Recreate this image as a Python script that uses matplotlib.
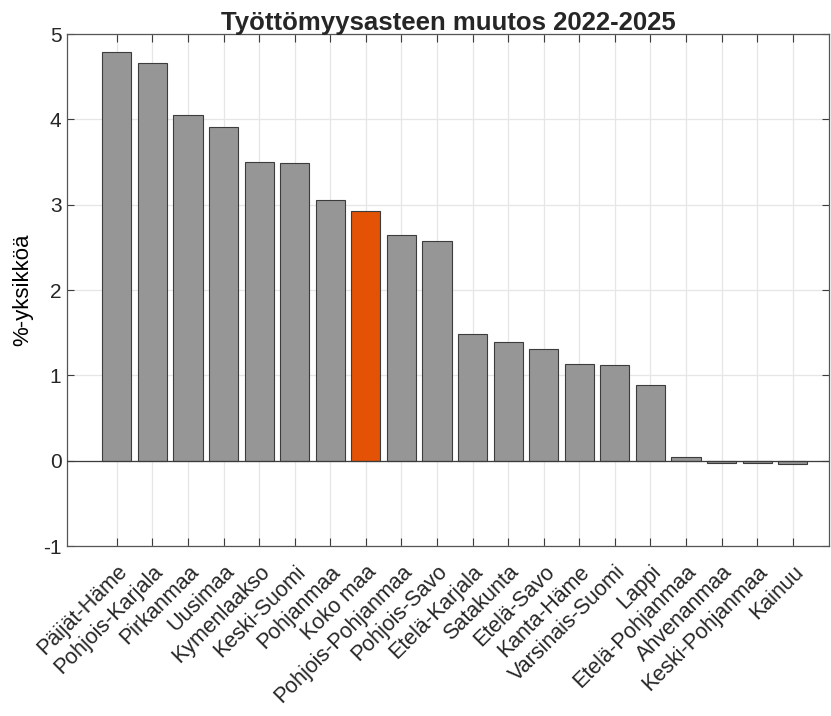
import matplotlib.pyplot as plt
import numpy as np

plt.rcParams['font.family'] = ['Liberation Sans', 'DejaVu Sans']
plt.rcParams['axes.unicode_minus'] = False
plt.rcParams['text.color'] = '#262626'
plt.rcParams['xtick.color'] = '#262626'
plt.rcParams['ytick.color'] = '#262626'

regions = ["Päijät-Häme", "Pohjois-Karjala", "Pirkanmaa", "Uusimaa", "Kymenlaakso",
           "Keski-Suomi", "Pohjanmaa", "Koko maa", "Pohjois-Pohjanmaa", "Pohjois-Savo",
           "Etelä-Karjala", "Satakunta", "Etelä-Savo", "Kanta-Häme", "Varsinais-Suomi",
           "Lappi", "Etelä-Pohjanmaa", "Ahvenanmaa", "Keski-Pohjanmaa", "Kainuu"]
change = [4.79, 4.66, 4.05, 3.91, 3.50, 3.49, 3.05, 2.93, 2.65, 2.58,
          1.48, 1.39, 1.31, 1.13, 1.12, 0.89, 0.04, -0.03, -0.03, -0.04]

x = np.arange(1, len(regions) + 1)
colors = ['#e35205' if r == "Koko maa" else '#969696' for r in regions]

fig = plt.figure(figsize=(8.31, 7.16), dpi=100)
ax = fig.add_axes([0.0806, 0.2374, 0.9175, 0.7151])

ax.bar(x, change, width=0.82, color=colors, edgecolor='#3c3c3c', linewidth=0.8, zorder=3)
ax.axhline(0, color='#3c3c3c', linewidth=0.9, zorder=4)

ax.set_xlim(-0.4, 21.03)
ax.set_ylim(-1, 5)
ax.set_xticks(x)
ax.set_xticklabels(regions, rotation=45, ha='right', rotation_mode='anchor', fontsize=15.5)
ax.set_yticks(range(-1, 6))
ax.tick_params(axis='y', labelsize=15, direction='in', length=5, right=True,
               color='#3c3c3c', pad=4)
ax.tick_params(axis='x', direction='in', length=6, top=True, color='#3c3c3c', pad=11)
ax.grid(color='#e6e6e6', linewidth=0.9, zorder=0)
for s in ax.spines.values():
    s.set_color('#555555')
    s.set_linewidth(0.9)

ax.set_ylabel("%-yksikköä", fontsize=16, labelpad=7)
ax.set_title("Työttömyysasteen muutos 2022-2025", fontsize=18.5, fontweight='bold', pad=3)

fig.savefig("out.png", dpi=100)
